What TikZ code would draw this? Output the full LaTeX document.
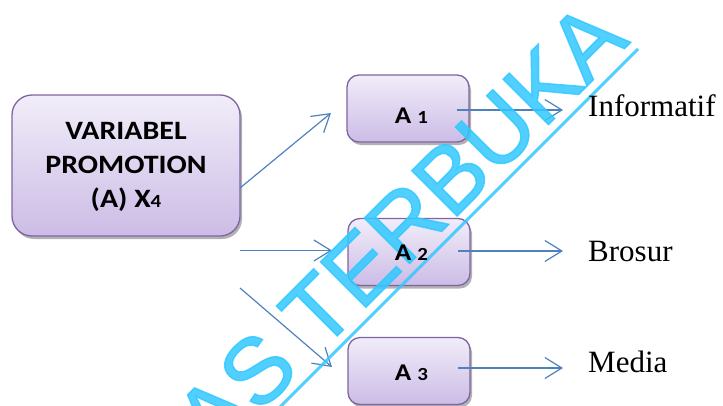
\documentclass[tikz,border=0pt]{standalone}
\usepackage{fontspec}
\setmainfont{Liberation Serif}
\newfontfamily\boxfont{Carlito}[FakeStretch=1.13]
\newfontfamily\wmfont{Liberation Sans}[FakeBold=1.6]
\usetikzlibrary{arrows.meta,shadows}

\definecolor{boxedge}{RGB}{128,100,162}
\definecolor{boxtop}{RGB}{241,237,249}
\definecolor{boxbot}{RGB}{204,188,230}
\definecolor{arrowblue}{RGB}{79,129,189}
\definecolor{wmcyan}{RGB}{50,200,255}

\tikzset{
  pbox/.style={draw=boxedge, line width=1.3pt, top color=boxtop, bottom color=boxbot,
    drop shadow={shadow xshift=2pt, shadow yshift=-3pt, fill=black!55, opacity=.55},
    inner sep=0pt},
  bigbox/.style={pbox, rounded corners=20pt, minimum width=228pt, minimum height=141pt},
  abox/.style={pbox, rounded corners=12pt, minimum width=122pt, minimum height=67pt},
  boxtext/.style={font=\boxfont\bfseries\fontsize{26.5}{34}\selectfont, align=center, inner sep=0pt},
  atext/.style={font=\boxfont\bfseries\fontsize{24}{24}\selectfont, inner sep=0pt, anchor=base},
  item/.style={font=\fontsize{31}{31}\selectfont, inner sep=0pt, anchor=base west},
  conn/.style={draw=arrowblue, line width=1.2pt, -{Straight Barb[length=17pt,width=21pt,line width=1.2pt]}},
}
\newcommand{\smalldigit}[1]{{\fontsize{18.5}{18.5}\selectfont #1}}

\begin{document}
\begin{tikzpicture}[x=1pt,y=-1pt]
  \useasboundingbox (0,0) rectangle (723,405);

  % boxes
  \node[bigbox] (var) at (126,165.5) {};
  \node[abox] (a1) at (408,108.5) {};
  \node[abox] (a2) at (409,252) {};
  \node[abox] (a3) at (409,371) {};

  % connector end points
  \coordinate (s1) at (240,188);
  \coordinate (e1) at (331,113);
  \coordinate (s2) at (240,250.5);
  \coordinate (e2) at (332,250.5);
  \coordinate (s3) at (240,288);
  \coordinate (e3) at (332,367);
  \coordinate (t1) at (457,110);
  \coordinate (u1) at (563,110);
  \coordinate (t2) at (458,251);
  \coordinate (u2) at (563,251);
  \coordinate (t3) at (458,368);
  \coordinate (u3) at (563,368);

  \draw[conn] (s1) -- (e1);
  \draw[conn] (s2) -- (e2);
  \draw[conn] (s3) -- (e3);
  \draw[conn] (t1) -- (u1);
  \draw[conn] (t2) -- (u2);
  \draw[conn] (t3) -- (u3);

  % diagonal stamp across the page
  \begin{scope}
    \clip (0,0) rectangle (723,405);
    \node[rotate=45, anchor=base east, inner sep=0pt, text=wmcyan, text opacity=.85,
      font=\wmfont\fontsize{93}{93}\selectfont] (stamp) at (631,42) {UNIVERSITAS TERBUKA};
    \coordinate (ul1) at (638,49);
    \coordinate (ul2) at (188,499);
    \draw[wmcyan, draw opacity=.85, line width=3pt] (ul1) -- (ul2);
  \end{scope}

  % box texts
  \node[boxtext] (vart) at (126,167) {VARIABEL\\PROMOTION\\(A) X\smalldigit{4}};
  \node[atext] (a1t) at (411.5,123.3) {A \smalldigit{1}};
  \node[atext] (a2t) at (411.5,260) {A \smalldigit{2}};
  \node[atext] (a3t) at (411.5,380) {A \smalldigit{3}};

  % indicator labels
  \node[item] (inf) at (588,116.7) {Informatif};
  \node[item] (bro) at (588,261) {Brosur};
  \node[item] (med) at (588,372) {Media};
\end{tikzpicture}
\end{document}
